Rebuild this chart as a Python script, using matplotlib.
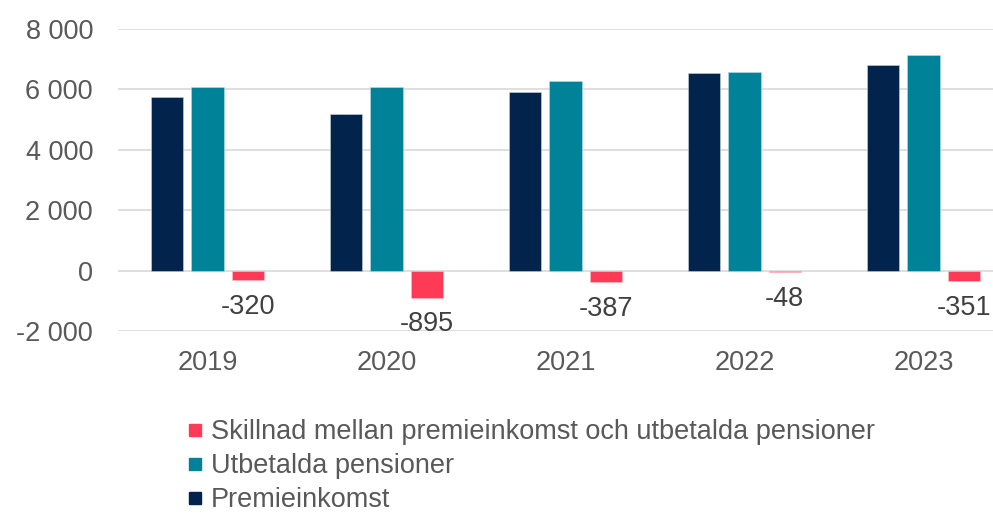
import matplotlib
matplotlib.use("Agg")
import matplotlib.pyplot as plt
from matplotlib.lines import Line2D
import numpy as np

years = ["2019", "2020", "2021", "2022", "2023"]
premieinkomst = [5740, 5188, 5894, 6527, 6789]
utbetalda = [6060, 6083, 6281, 6575, 7140]
skillnad = [-320, -895, -387, -48, -351]

c_navy = "#02234B"
c_teal = "#008299"
c_red = "#FF3A56"
txt = "#595959"

plt.rcParams['font.family'] = ['Liberation Sans', 'DejaVu Sans']
fs = 19.5

fig = plt.figure(figsize=(9.93, 5.13), dpi=100)
ax = fig.add_axes([118/993, 1 - 331/513, 1 - 118/993, (331 - 28.7)/513])

x = np.arange(len(years))
slot = 0.225
bw = 0.18
ax.bar(x - slot, premieinkomst, bw, color=c_navy, edgecolor="#c8d4e0", linewidth=0.4, zorder=3)
ax.bar(x, utbetalda, bw, color=c_teal, edgecolor="#b8dde6", linewidth=0.4, zorder=3)
ax.bar(x + slot, skillnad, bw, color=c_red, edgecolor="#ffc0c8", linewidth=0.4, zorder=3)

for xi, v in zip(x, skillnad):
    ax.annotate(f"{v}", xy=(xi + slot, v), xytext=(0, -10), textcoords="offset points",
                ha="center", va="top", fontsize=fs, color="#404040")

ax.set_ylim(-2000, 8000)
ax.set_xlim(-0.5, -0.5 + (993 - 118) / 179)
yt = [-2000, 0, 2000, 4000, 6000, 8000]
ax.set_yticks(yt)
ax.set_yticklabels([f"{v:,}".replace(",", " ") for v in yt])
ax.set_xticks(x)
ax.set_xticklabels(years)
ax.tick_params(axis="y", length=0, pad=18, labelsize=fs, labelcolor=txt)
ax.tick_params(axis="x", length=0, pad=14, labelsize=fs, labelcolor=txt)
ax.grid(axis="y", color="#d9d9d9", linewidth=1.2, zorder=0)
for s in ax.spines.values():
    s.set_visible(False)

handles = [
    Line2D([], [], marker="s", linestyle="none", color=c_red, markersize=8),
    Line2D([], [], marker="s", linestyle="none", color=c_teal, markersize=8),
    Line2D([], [], marker="s", linestyle="none", color=c_navy, markersize=8),
]
labels = ["Skillnad mellan premieinkomst och utbetalda pensioner",
          "Utbetalda pensioner", "Premieinkomst"]
leg = fig.legend(handles, labels, loc="upper left", bbox_to_anchor=(188/993, 1 - 419/513),
                 frameon=False, fontsize=fs, handlelength=0.55, handletextpad=0.3,
                 labelspacing=0.3, borderpad=0, borderaxespad=0)
for t in leg.get_texts():
    t.set_color(txt)

fig.savefig("out.png", dpi=100)
